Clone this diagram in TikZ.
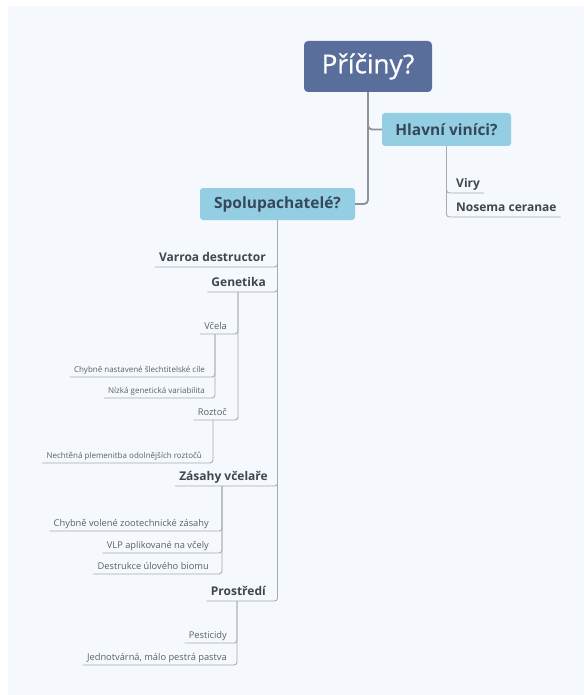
\documentclass[tikz,border=0pt]{standalone}
\usepackage{fontspec}
\setmainfont{Open Sans}
\newfontfamily\rootfont[FakeBold=0.7]{Open Sans}
\usetikzlibrary{positioning}

\definecolor{pagebg}{HTML}{F5F9FD}
\definecolor{rootblue}{HTML}{5A6E9C}
\definecolor{mainblue}{HTML}{93CEE3}
\definecolor{maintext}{HTML}{37475A}
\definecolor{topictext}{HTML}{40454F}
\definecolor{subtext}{HTML}{5B6069}
\definecolor{trunkgray}{HTML}{8C919C}
\definecolor{branchgray}{HTML}{A7ABB3}

\tikzset{
  rootbox/.style={fill=rootblue, rounded corners=4pt, minimum width=128pt, minimum height=51pt,
    text=white, font=\rootfont\fontsize{26}{30}\selectfont},
  mainbox/.style={fill=mainblue, rounded corners=3pt, minimum height=33pt, text=maintext,
    font=\bfseries\fontsize{15.5}{18}\selectfont},
  topic/.style={inner xsep=4pt, inner ysep=2.3pt, text height=9pt, text depth=2.8pt,
    text=topictext, font=\bfseries\fontsize{12}{14}\selectfont},
  subtopic/.style={anchor=south east, inner xsep=4pt, inner ysep=2pt, text height=7pt, text depth=2.2pt,
    text=subtext, font=\fontsize{9.3}{11}\selectfont},
  detail/.style={anchor=south east, inner xsep=4pt, inner ysep=2.6pt, text height=6pt, text depth=2pt,
    text=subtext, font=\fontsize{8}{10}\selectfont},
  trunk/.style={draw=trunkgray, line width=1.8pt, rounded corners=4pt},
  branch/.style={draw=branchgray, line width=0.9pt, rounded corners=3pt}
}

\begin{document}
\begin{tikzpicture}[x=1pt, y=-1pt]
\useasboundingbox (0,0) rectangle (584,695);
\fill[pagebg] (8,6) rectangle (584,695);

% Central topic and main branches
\node[rootbox] (root) at (368,66.5) {Příčiny?};
\node[mainbox, minimum width=129pt] (hlavni) at (446.5,129.5) {Hlavní viníci?};
\node[mainbox, minimum width=155pt, minimum height=32pt] (spolu) at (277.5,204) {Spolupachatelé?};

\draw[trunk] (root.south) |- (hlavni.west);
\draw[trunk] (root.south) |- (spolu.east);

% Hlavni vinici
\node[topic, anchor=south west] (viry) at (452,193) {Viry};
\node[topic, anchor=south west] (nosema) at (452,217) {Nosema ceranae};

\draw[branch] (viry.south east) -| (hlavni.south);
\draw[branch] (nosema.south east) -| (hlavni.south);

% Spolupachatele
\node[topic, anchor=south east] (varroa) at (270,267) {Varroa destructor};
\node[topic, anchor=south east] (genetika) at (270,292) {Genetika};
\node[topic, anchor=south east] (zasahy) at (272,486) {Zásahy včelaře};
\node[topic, anchor=south east] (prostredi) at (270,601) {Prostředí};

\draw[branch] (varroa.south west) -| (spolu.south);
\draw[branch] (genetika.south west) -| (spolu.south);
\draw[branch] (zasahy.south west) -| (spolu.south);
\draw[branch] (prostredi.south west) -| (spolu.south);

% Genetika
\coordinate (genetikaj) at (238,292);
\node[subtopic] (vcela) at (231,334) {Včela};
\node[subtopic] (roztoc) at (231,420) {Roztoč};

\draw[branch] (vcela.south west) -| (genetikaj);
\draw[branch] (roztoc.south west) -| (genetikaj);

\coordinate (vcelaj) at (215,334);
\node[detail] (cile) at (209,377) {Chybně nastavené šlechtitelské cíle};
\node[detail] (variabilita) at (209,398) {Nízká genetická variabilita};

\draw[branch] (cile.south west) -| (vcelaj);
\draw[branch] (variabilita.south west) -| (vcelaj);

\coordinate (roztocj) at (213,420);
\node[detail] (plemenitba) at (206,463) {Nechtěná plemenitba odolnějších roztočů};

\draw[branch] (plemenitba.south west) -| (roztocj);

% Zasahy vcelare
\coordinate (zasahyj) at (222,486);
\node[subtopic] (zootech) at (213,531) {Chybně volené zootechnické zásahy};
\node[subtopic] (vlp) at (213,553) {VLP aplikované na včely};
\node[subtopic] (biom) at (213,574) {Destrukce úlového biomu};

\draw[branch] (zootech.south west) -| (zasahyj);
\draw[branch] (vlp.south west) -| (zasahyj);
\draw[branch] (biom.south west) -| (zasahyj);

% Prostredi
\coordinate (prostredij) at (237,601);
\node[subtopic] (pesticidy) at (231,643) {Pesticidy};
\node[subtopic] (pastva) at (231,665) {Jednotvárná, málo pestrá pastva};

\draw[branch] (pesticidy.south west) -| (prostredij);
\draw[branch] (pastva.south west) -| (prostredij);
\end{tikzpicture}
\end{document}
